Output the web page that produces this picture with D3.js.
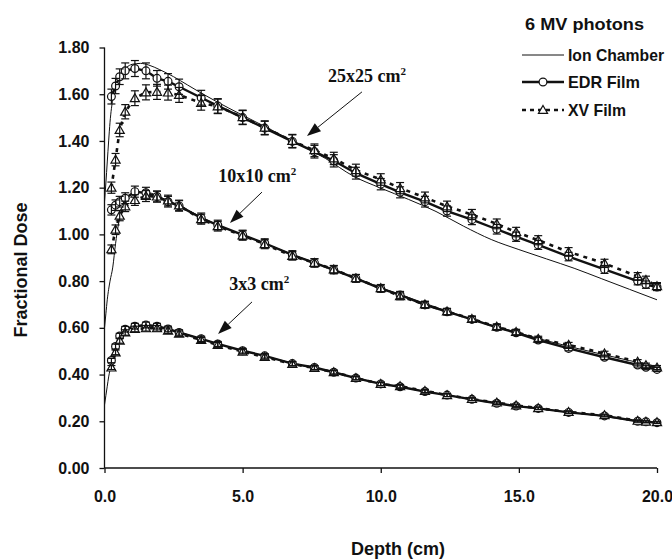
<!DOCTYPE html>
<html>
<head>
<meta charset="utf-8">
<script src="https://cdn.jsdelivr.net/npm/d3@7"></script>
<style>
  html, body { margin: 0; padding: 0; background: #fff; }
  svg { display: block; }
</style>
</head>
<body>
<svg id="chart" width="672" height="560"></svg>
<script>
// ---------------- DATA ----------------
const filmDepth = [0.25, 0.4, 0.55, 0.75, 1.1, 1.5, 1.9, 2.3, 2.7, 3.5, 4.1, 5.0, 5.8, 6.8, 7.6, 8.3, 9.1, 10.0, 10.7, 11.6, 12.4, 13.3, 14.2, 14.9, 15.7, 16.8, 18.1, 19.3, 19.6, 20.0];
const icDepth = [0, 0.05, 0.1, 0.15, 0.2, 0.3, 0.4, 0.5, 0.6, 0.8, 1.0, 1.3, 1.6, 2.0, 2.5, 3.0, 3.5, 4.0, 5.0, 6.0, 7.0, 8.0, 9.0, 10.0, 11.0, 12.0, 13.0, 14.0, 15.0, 16.0, 17.0, 18.0, 19.0, 20.0];

// 25x25 cm2
const ic25  = [1.14, 1.22, 1.31, 1.40, 1.48, 1.58, 1.635, 1.665, 1.69, 1.715, 1.728, 1.732, 1.725, 1.705, 1.675, 1.64, 1.605, 1.572, 1.51, 1.45, 1.388, 1.325, 1.25, 1.198, 1.15, 1.098, 1.035, 0.978, 0.935, 0.895, 0.855, 0.81, 0.765, 0.72];
const edr25 = [1.59, 1.635, 1.675, 1.70, 1.71, 1.70, 1.668, 1.655, 1.632, 1.585, 1.55, 1.50, 1.455, 1.398, 1.354, 1.315, 1.262, 1.215, 1.18, 1.14, 1.10, 1.063, 1.022, 0.99, 0.955, 0.905, 0.85, 0.80, 0.785, 0.775];
const xv25  = [1.20, 1.32, 1.447, 1.525, 1.583, 1.608, 1.61, 1.607, 1.597, 1.563, 1.548, 1.502, 1.457, 1.40, 1.36, 1.325, 1.275, 1.235, 1.198, 1.158, 1.12, 1.085, 1.045, 1.01, 0.975, 0.925, 0.876, 0.82, 0.805, 0.778];

// 10x10 cm2
const ic10  = [0.60, 0.66, 0.72, 0.765, 0.80, 0.86, 0.96, 1.04, 1.09, 1.14, 1.165, 1.178, 1.178, 1.16, 1.135, 1.105, 1.075, 1.045, 0.998, 0.952, 0.905, 0.862, 0.817, 0.772, 0.73, 0.688, 0.648, 0.612, 0.578, 0.545, 0.515, 0.487, 0.46, 0.435];
const edr10 = [1.105, 1.125, 1.14, 1.155, 1.183, 1.178, 1.162, 1.14, 1.122, 1.07, 1.04, 0.998, 0.962, 0.912, 0.878, 0.848, 0.812, 0.768, 0.741, 0.698, 0.669, 0.636, 0.602, 0.579, 0.548, 0.512, 0.474, 0.441, 0.431, 0.422];
const xv10  = [0.936, 1.02, 1.08, 1.12, 1.147, 1.164, 1.162, 1.145, 1.124, 1.065, 1.035, 0.995, 0.958, 0.908, 0.878, 0.85, 0.812, 0.77, 0.735, 0.70, 0.67, 0.638, 0.605, 0.582, 0.553, 0.527, 0.49, 0.455, 0.44, 0.43];

// 3x3 cm2
const ic3   = [0.27, 0.31, 0.35, 0.39, 0.42, 0.47, 0.51, 0.54, 0.562, 0.585, 0.60, 0.607, 0.608, 0.601, 0.588, 0.571, 0.553, 0.535, 0.502, 0.473, 0.443, 0.418, 0.388, 0.362, 0.34, 0.32, 0.30, 0.281, 0.265, 0.25, 0.236, 0.222, 0.205, 0.192];
const edr3  = [0.46, 0.52, 0.565, 0.594, 0.607, 0.612, 0.607, 0.595, 0.58, 0.553, 0.531, 0.502, 0.48, 0.447, 0.43, 0.41, 0.385, 0.36, 0.348, 0.327, 0.312, 0.294, 0.277, 0.265, 0.255, 0.238, 0.223, 0.20, 0.198, 0.194];
const xv3   = [0.43, 0.495, 0.545, 0.58, 0.595, 0.598, 0.598, 0.588, 0.575, 0.548, 0.527, 0.498, 0.475, 0.445, 0.428, 0.41, 0.385, 0.36, 0.35, 0.33, 0.312, 0.295, 0.28, 0.268, 0.256, 0.24, 0.226, 0.202, 0.198, 0.196];

const errFrac = 0.02;

const yTicks = [0.0, 0.2, 0.4, 0.6, 0.8, 1.0, 1.2, 1.4, 1.6, 1.8];
const xTicks = [0, 5, 10, 15, 20];

const legendTitle = "6 MV photons";
const legendLabels = ["Ion Chamber", "EDR Film", "XV Film"];
const fieldLabels = ["25x25 cm", "10x10 cm", "3x3 cm"];
// annotation anchors in data units: label start, arrow tail, arrow tip
const annLabel = [[8.09, 1.654], [4.12, 1.226], [4.52, 0.762]];
const annTail  = [[9.32, 1.61], [5.70, 1.181], [5.34, 0.711]];
const annTip   = [[7.33, 1.421], [4.54, 1.049], [4.11, 0.574]];

// ---------------- LAYOUT ----------------
const svg = d3.select("#chart");
const x = d3.scaleLinear().domain([0, 20]).range([104.5, 657]);
const y = d3.scaleLinear().domain([0, 1.8]).range([468, 47.5]);
const ink = "#111";
const sans = "'Liberation Sans', Arial, Helvetica, sans-serif";
const serif = "'Liberation Serif', 'Times New Roman', serif";

// Axes
const yAxis = svg.append("g").attr("transform", `translate(${x(0)},0)`)
  .call(d3.axisLeft(y).tickValues(yTicks).tickFormat(d3.format(".2f")).tickSize(5).tickSizeOuter(0).tickPadding(10));
const xAxis = svg.append("g").attr("transform", `translate(0,${y(0)})`)
  .call(d3.axisBottom(x).tickValues(xTicks).tickFormat(d3.format(".1f")).tickSize(5).tickSizeOuter(0).tickPadding(18));
[yAxis, xAxis].forEach(g => {
  g.select(".domain").attr("stroke", ink).attr("stroke-width", 1.3);
  g.selectAll(".tick line").attr("stroke", ink).attr("stroke-width", 1.3);
  g.selectAll(".tick text").attr("fill", ink).style("font-family", sans)
    .style("font-weight", "bold").style("font-size", "16px");
});
yAxis.select(".domain").attr("d", `M0,${y(0)}V${y(1.8)}`);
xAxis.select(".domain").attr("d", `M${x(0)},0H${x(20)}`);

// Axis titles
svg.append("text").attr("x", 398).attr("y", 555).attr("text-anchor", "middle")
  .attr("fill", ink).style("font-family", sans).style("font-weight", "bold").style("font-size", "18px")
  .text("Depth (cm)");
svg.append("text").attr("transform", "translate(27,270) rotate(-90)").attr("text-anchor", "middle")
  .attr("fill", ink).style("font-family", sans).style("font-weight", "bold").style("font-size", "18px")
  .text("Fractional Dose");

// ---------------- SERIES ----------------
const plot = svg.append("g");
const icLine = d3.line().x((d, i) => x(icDepth[i])).y(d => y(d)).curve(d3.curveMonotoneX);
const filmLine = d3.line().x((d, i) => x(filmDepth[i])).y(d => y(d));

[ic25, ic10, ic3].forEach(s => {
  plot.append("path").attr("d", icLine(s)).attr("fill", "none").attr("stroke", ink).attr("stroke-width", 1);
});
[edr25, edr10, edr3].forEach(s => {
  plot.append("path").attr("d", filmLine(s)).attr("fill", "none").attr("stroke", ink).attr("stroke-width", 2.4);
});
[xv25, xv10, xv3].forEach(s => {
  plot.append("path").attr("d", filmLine(s)).attr("fill", "none").attr("stroke", ink)
    .attr("stroke-width", 2.6).attr("stroke-dasharray", "4,5");
});

const tri = d3.symbol().type(d3.symbolTriangle).size(36);

function drawMarkers(series, kind) {
  const g = plot.append("g");
  series.forEach((v, i) => {
    const cx = x(filmDepth[i]), cy = y(v);
    if (kind === "circle") {
      g.append("circle").attr("cx", cx).attr("cy", cy).attr("r", 3.9)
        .attr("fill", "#fff").attr("stroke", ink).attr("stroke-width", 1.2);
    } else {
      g.append("path").attr("d", tri()).attr("transform", `translate(${cx},${cy + 0.8})`)
        .attr("fill", "#fff").attr("stroke", ink).attr("stroke-width", 1.2);
    }
  });
}
function drawErrors(series) {
  const g = plot.append("g").attr("stroke", ink).attr("stroke-width", 1.2);
  series.forEach((v, i) => {
    const cx = x(filmDepth[i]);
    const y1 = y(v * (1 + errFrac)), y2 = y(v * (1 - errFrac));
    g.append("line").attr("x1", cx).attr("x2", cx).attr("y1", y1).attr("y2", y2);
    g.append("line").attr("x1", cx - 4).attr("x2", cx + 4).attr("y1", y1).attr("y2", y1);
    g.append("line").attr("x1", cx - 4).attr("x2", cx + 4).attr("y1", y2).attr("y2", y2);
  });
}
[edr25, edr10, edr3].forEach(s => drawMarkers(s, "circle"));
[xv25, xv10, xv3].forEach(s => drawMarkers(s, "tri"));
[edr25, edr10, edr3, xv25, xv10, xv3].forEach(s => drawErrors(s));

// ---------------- ANNOTATIONS ----------------
fieldLabels.forEach((lab, k) => {
  const t = svg.append("text").attr("x", x(annLabel[k][0])).attr("y", y(annLabel[k][1]))
    .attr("fill", ink).style("font-family", serif).style("font-weight", "bold").style("font-size", "18px");
  t.append("tspan").text(lab);
  t.append("tspan").attr("dy", -7).style("font-size", "11px").text("2");

  const x1 = x(annTail[k][0]), y1 = y(annTail[k][1]);
  const x2 = x(annTip[k][0]), y2 = y(annTip[k][1]);
  const ang = Math.atan2(y2 - y1, x2 - x1);
  const L = 14, W = 5;
  const bx = x2 - L * Math.cos(ang), by = y2 - L * Math.sin(ang);
  svg.append("line").attr("x1", x1).attr("y1", y1).attr("x2", bx).attr("y2", by)
    .attr("stroke", ink).attr("stroke-width", 1);
  const p = d3.path();
  p.moveTo(x2, y2);
  p.lineTo(bx + W * Math.sin(ang), by - W * Math.cos(ang));
  p.lineTo(bx - W * Math.sin(ang), by + W * Math.cos(ang));
  p.closePath();
  svg.append("path").attr("d", p.toString()).attr("fill", ink);
});

// ---------------- LEGEND ----------------
const lg = svg.append("g");
lg.append("text").attr("x", 525).attr("y", 30).attr("fill", ink).attr("textLength", 119).attr("lengthAdjust", "spacingAndGlyphs")
  .style("font-family", sans).style("font-weight", "bold").style("font-size", "17px").text(legendTitle);
const legY = [55, 82, 110];
const legTextLen = [96, 72, 58];
legendLabels.forEach((lab, k) => {
  const yy = legY[k];
  if (k === 0) {
    lg.append("line").attr("x1", 522).attr("x2", 564).attr("y1", yy).attr("y2", yy)
      .attr("stroke", ink).attr("stroke-width", 1);
  } else if (k === 1) {
    lg.append("line").attr("x1", 522).attr("x2", 564).attr("y1", yy).attr("y2", yy)
      .attr("stroke", ink).attr("stroke-width", 2.4);
    lg.append("circle").attr("cx", 543).attr("cy", yy).attr("r", 3.9)
      .attr("fill", "#fff").attr("stroke", ink).attr("stroke-width", 1.2);
  } else {
    lg.append("line").attr("x1", 522).attr("x2", 564).attr("y1", yy).attr("y2", yy)
      .attr("stroke", ink).attr("stroke-width", 2.6).attr("stroke-dasharray", "4,4");
    lg.append("path").attr("d", tri()).attr("transform", `translate(543,${yy + 0.8})`)
      .attr("fill", "#fff").attr("stroke", ink).attr("stroke-width", 1.2);
  }
  lg.append("text").attr("x", 568).attr("y", yy + 6).attr("fill", ink)
    .attr("textLength", legTextLen[k]).attr("lengthAdjust", "spacingAndGlyphs")
    .style("font-family", sans).style("font-weight", "bold").style("font-size", "17px").text(lab);
});
</script>
</body>
</html>
